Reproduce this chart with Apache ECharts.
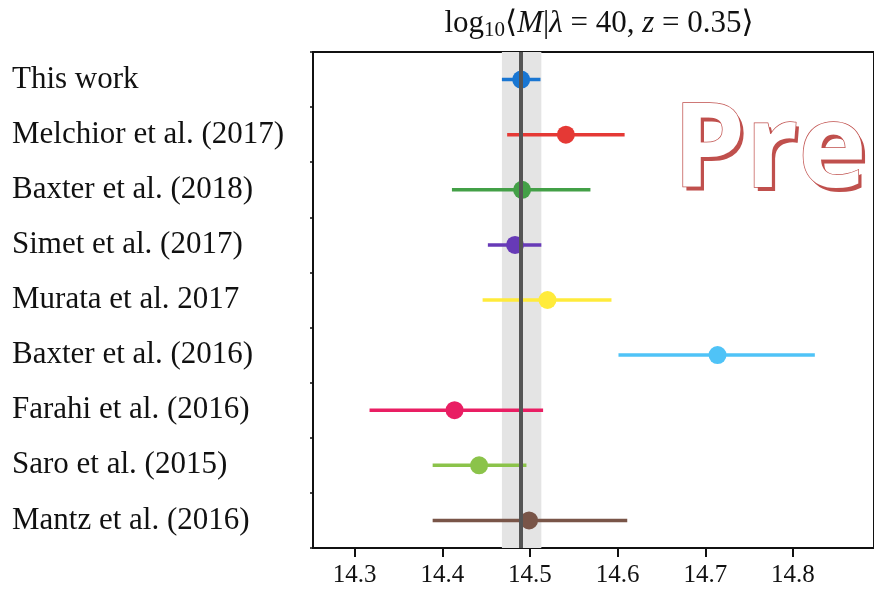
<!DOCTYPE html>
<html>
<head>
<meta charset="utf-8">
<script src="https://cdn.jsdelivr.net/npm/echarts@6/dist/echarts.min.js"></script>
<style>
  html, body { margin: 0; padding: 0; background: #fff; }
  #chart { width: 874px; height: 592px; }
</style>
</head>
<body>
<div id="chart"></div>
<script>
// Mass estimates log10<M | lambda=40, z=0.35> from several calibrations
const studies = [
  'This work',
  'Melchior et al. (2017)',
  'Baxter et al. (2018)',
  'Simet et al. (2017)',
  'Murata et al. 2017',
  'Baxter et al. (2016)',
  'Farahi et al. (2016)',
  'Saro et al. (2015)',
  'Mantz et al. (2016)'
];
const centralValues = [14.490, 14.541, 14.491, 14.483, 14.520, 14.714, 14.414, 14.442, 14.499];
const lowerBounds   = [14.468, 14.474, 14.411, 14.452, 14.446, 14.601, 14.317, 14.389, 14.389];
const upperBounds   = [14.512, 14.608, 14.569, 14.513, 14.593, 14.825, 14.515, 14.496, 14.611];
const studyColors = ['#1976D2', '#E53935', '#43A047', '#673AB7', '#FFEB3B',
                     '#4FC3F7', '#E91E63', '#8BC34A', '#795548'];

// Reference band and line for this work
const refLow = 14.468;
const refHigh = 14.513;
const refValue = 14.490;

const xTicks = [14.3, 14.4, 14.5, 14.6, 14.7, 14.8];

const serif = '"Liberation Serif", "DejaVu Serif", serif';

const chart = echarts.init(document.getElementById('chart'), null, { renderer: 'canvas' });

const errorData = studies.map((s, i) => [lowerBounds[i], upperBounds[i], i]);
const pointData = studies.map((s, i) => ({
  value: [centralValues[i], i],
  itemStyle: { color: studyColors[i], opacity: 1 }
}));

chart.setOption({
  animation: false,
  backgroundColor: '#fff',
  title: {
    left: 594,
    top: 1,
    textAlign: 'center',
    text: '{n|log}{s|10}{n|\u27E8}{i|M}{n||}{i|\u03BB}{n| = 40, }{i|z}{n| = 0.35\u27E9}',
    textStyle: {
      fontWeight: 'normal',
      rich: {
        n: { fontFamily: serif, fontSize: 31, fontWeight: 'normal', color: '#111' },
        i: { fontFamily: serif, fontSize: 31, fontWeight: 'normal', fontStyle: 'italic', color: '#111' },
        s: { fontFamily: serif, fontSize: 21, fontWeight: 'normal', color: '#111', padding: [14, 0, 0, 0] }
      }
    }
  },
  grid: { left: 313, top: 52, bottom: 44, right: -1, show: true, borderColor: '#111', borderWidth: 2 },
  xAxis: {
    type: 'value',
    min: 14.2525,
    max: 14.8925,
    splitLine: { show: false },
    axisLine: { show: true, lineStyle: { color: '#111', width: 2 } },
    axisTick: { show: true, length: 9, lineStyle: { color: '#111', width: 2 }, customValues: xTicks },
    axisLabel: {
      customValues: xTicks,
      formatter: v => v.toFixed(1),
      fontFamily: serif, fontSize: 25, color: '#111', margin: 15
    }
  },
  yAxis: {
    type: 'category',
    data: studies,
    inverse: true,
    boundaryGap: true,
    axisLine: { show: true, lineStyle: { color: '#111', width: 2 } },
    axisTick: { show: true, length: 3, lineStyle: { color: '#111', width: 1.5 } },
    splitLine: { show: false },
    axisLabel: {
      align: 'left',
      margin: 301,
      fontFamily: serif, fontSize: 31, color: '#111'
    }
  },
  series: [
    {
      name: 'reference',
      type: 'scatter',
      data: [],
      silent: true,
      z: 1,
      markArea: {
        silent: true,
        itemStyle: { color: '#E4E4E4', opacity: 1 },
        data: [[{ xAxis: refLow }, { xAxis: refHigh }]]
      },
      markLine: {
        silent: true,
        symbol: ['none', 'none'],
        label: { show: false },
        lineStyle: { color: '#555', width: 4, type: 'solid', opacity: 1 },
        data: [{ xAxis: refValue }]
      }
    },
    {
      name: 'errors',
      type: 'custom',
      z: 2,
      data: errorData,
      renderItem: (params, api) => {
        const a = api.coord([api.value(0), api.value(2)]);
        const b = api.coord([api.value(1), api.value(2)]);
        return {
          type: 'line',
          shape: { x1: a[0], y1: a[1], x2: b[0], y2: b[1] },
          style: { stroke: studyColors[params.dataIndex], lineWidth: 3.5 }
        };
      }
    },
    {
      name: 'estimates',
      type: 'scatter',
      z: 3,
      symbol: 'circle',
      symbolSize: 18,
      itemStyle: { opacity: 1 },
      data: pointData
    }
  ],
  graphic: [
    {
      type: 'text', left: 676, top: 100, z: 100, silent: true,
      style: { text: 'Pre', font: 'bold 116px "Open Sans", sans-serif', fill: '#C0504D' }
    },
    {
      type: 'text', left: 672, top: 95, z: 101, silent: true,
      style: { text: 'Pre', font: 'bold 116px "Open Sans", sans-serif', fill: '#fff', stroke: '#C0504D', lineWidth: 1.5 }
    }
  ]
});
</script>
</body>
</html>
